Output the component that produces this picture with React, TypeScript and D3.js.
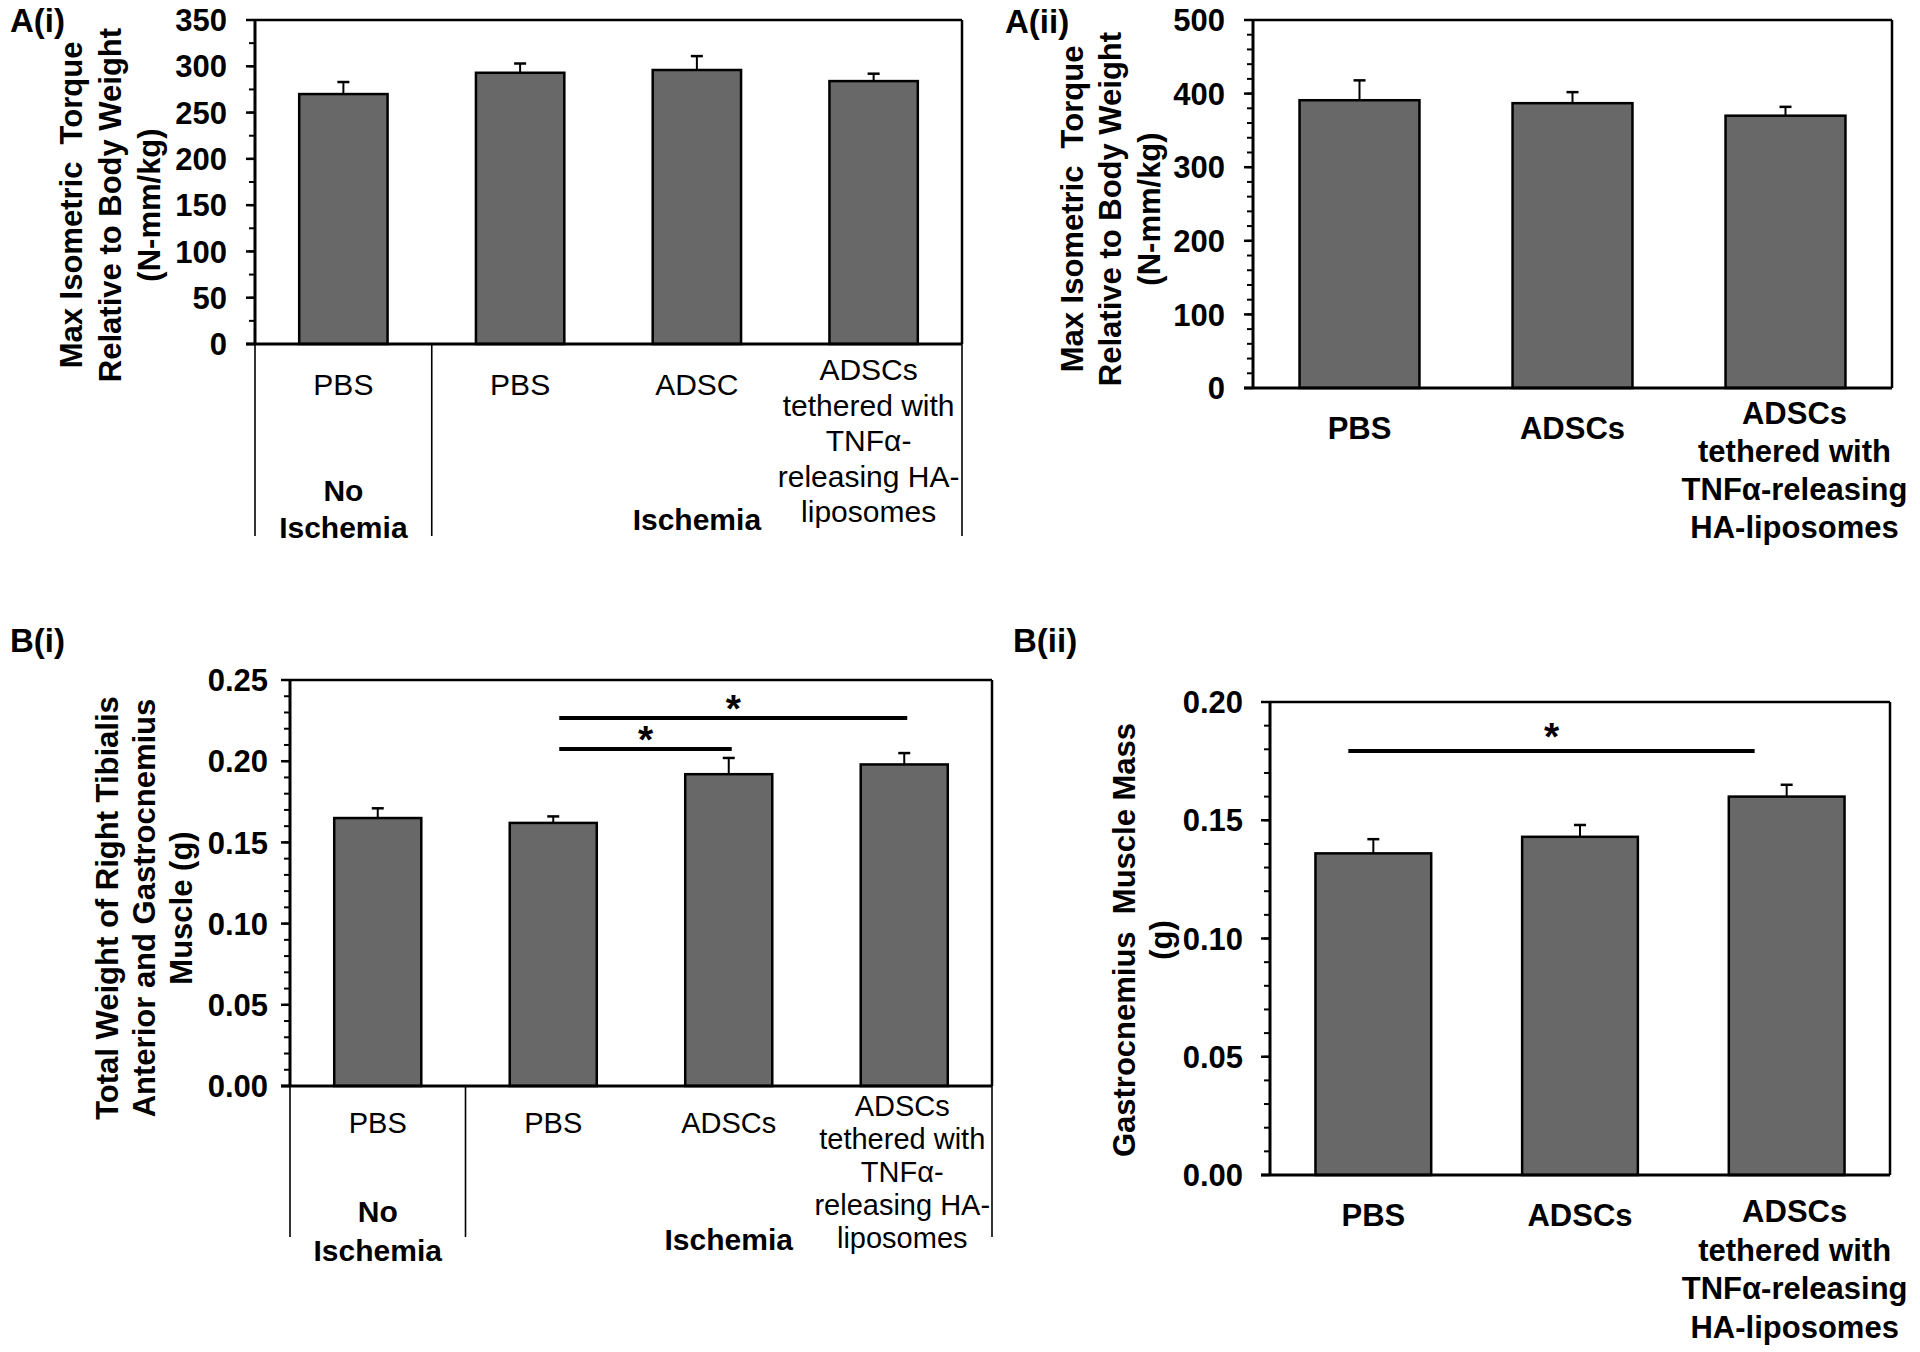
import React from "react";
import * as d3 from "d3";

const FONT = "'Liberation Sans', Arial, Helvetica, sans-serif";

// ---------- A(i) ----------
const aiLabels = [["PBS"], ["PBS"], ["ADSC"], ["ADSCs", "tethered with", "TNFα-", "releasing HA-", "liposomes"]];
const aiValues = [270, 293, 296, 284];
const aiErrors = [13, 10, 15, 8];
const aiTicks = [0, 50, 100, 150, 200, 250, 300, 350];
const aiTitle = ["Max Isometric  Torque", "Relative to Body Weight", "(N-mm/kg)"];

// ---------- A(ii) ----------
const aiiLabels = [["PBS"], ["ADSCs"], ["ADSCs", "tethered with", "TNFα-releasing", "HA-liposomes"]];
const aiiValues = [391, 387, 370];
const aiiErrors = [27, 15, 12];
const aiiTicks = [0, 100, 200, 300, 400, 500];
const aiiTitle = ["Max Isometric  Torque", "Relative to Body Weight", "(N-mm/kg)"];

// ---------- B(i) ----------
const biLabels = [["PBS"], ["PBS"], ["ADSCs"], ["ADSCs", "tethered with", "TNFα-", "releasing HA-", "liposomes"]];
const biValues = [0.165, 0.162, 0.192, 0.198];
const biErrors = [0.006, 0.004, 0.010, 0.007];
const biTicks = [0, 0.05, 0.10, 0.15, 0.20, 0.25];
const biTitle = ["Total Weight of Right Tibialis", "Anterior and Gastrocnemius", "Muscle (g)"];
const biSig = [
  { from: 1, to: 3, y: 0.2266 },
  { from: 1, to: 2, y: 0.2075 },
];

// ---------- B(ii) ----------
const biiLabels = [["PBS"], ["ADSCs"], ["ADSCs", "tethered with", "TNFα-releasing", "HA-liposomes"]];
const biiValues = [0.136, 0.143, 0.160];
const biiErrors = [0.006, 0.005, 0.005];
const biiTicks = [0, 0.05, 0.10, 0.15, 0.20];
const biiTitle = ["Gastrocnemius  Muscle Mass", "(g)"];
const biiSig = [{ from: 0, to: 2, y: 0.1793 }];

// group labels under the split panels
const groupNo = ["No", "Ischemia"];
const groupIsch = "Ischemia";

type PanelProps = {
  name: string;
  nameX: number;
  nameY: number;
  left: number;
  right: number;
  top: number;
  zero: number;
  max: number;
  ticks: number[];
  minor: number;
  fmt: (v: number) => string;
  values: number[];
  errors: number[];
  labels: string[][];
  barRatio: number;
  title: string[];
  titleOffsets: number[];
  titleY: number;
  tickGap: number;
  catFont: number;
  catWeight: string;
  singleBase: number;
  multiBase: number;
  lineGap: number;
  multiDx: number;
  groups?: { noBase: number; ischBase: number; midBase: number; divBottom: number };
  sig?: { from: number; to: number; y: number }[];
  sigDx1?: number;
  sigDx2?: number;
  starDy?: number;
};

function Panel(p: PanelProps) {
  const x = d3
    .scaleBand<string>()
    .domain(p.values.map((_, i) => String(i)))
    .range([p.left, p.right]);
  const y = d3.scaleLinear().domain([0, p.max]).range([p.zero, p.top]);
  const bw = x.bandwidth();
  const barW = bw * p.barRatio;
  const cx = (i: number) => (x(String(i)) as number) + bw / 2;
  const minorTicks = d3.range(0, p.max + p.minor / 2, p.minor);
  const majorLen = 9;
  const minorLen = 6;
  const bottomExt = p.groups ? p.groups.divBottom : p.zero;

  return (
    <g>
      <text x={p.nameX} y={p.nameY} fontFamily={FONT} fontWeight="bold" fontSize={33}>
        {p.name}
      </text>

      {/* y title */}
      {p.title.map((t, i) => (
        <text
          key={"t" + i}
          transform={`translate(${p.left + p.titleOffsets[i]},${p.titleY}) rotate(-90)`}
          textAnchor="middle"
          fontFamily={FONT}
          fontWeight="bold"
          fontSize={31}
          style={{ whiteSpace: "pre" }}
        >
          {t}
        </text>
      ))}

      {/* bars */}
      {p.values.map((v, i) => (
        <g key={"b" + i}>
          <line
            x1={cx(i)}
            x2={cx(i)}
            y1={y(v)}
            y2={y(v + p.errors[i])}
            stroke="#000"
            strokeWidth={2}
          />
          <line
            x1={cx(i) - 6}
            x2={cx(i) + 6}
            y1={y(v + p.errors[i])}
            y2={y(v + p.errors[i])}
            stroke="#000"
            strokeWidth={2.5}
          />
          <rect
            x={cx(i) - barW / 2}
            y={y(v)}
            width={barW}
            height={y(0) - y(v)}
            fill="#686868"
            stroke="#000"
            strokeWidth={2.5}
          />
        </g>
      ))}

      {/* ticks */}
      {minorTicks.map((t, i) => (
        <line
          key={"m" + i}
          x1={p.left - minorLen}
          x2={p.left}
          y1={y(t)}
          y2={y(t)}
          stroke="#000"
          strokeWidth={2}
        />
      ))}
      {p.ticks.map((t, i) => (
        <g key={"k" + i}>
          <line x1={p.left - majorLen} x2={p.left} y1={y(t)} y2={y(t)} stroke="#000" strokeWidth={2.5} />
          <text
            x={p.left - p.tickGap}
            y={y(t)}
            dy="0.36em"
            textAnchor="end"
            fontFamily={FONT}
            fontWeight="bold"
            fontSize={31}
          >
            {p.fmt(t)}
          </text>
        </g>
      ))}

      {/* frame */}
      <line x1={p.left} x2={p.right} y1={p.top} y2={p.top} stroke="#000" strokeWidth={2.5} />
      <line x1={p.right} x2={p.right} y1={p.top} y2={p.zero} stroke="#000" strokeWidth={2.5} />
      <line x1={p.left} x2={p.left} y1={p.top} y2={p.zero} stroke="#000" strokeWidth={3} />
      <line x1={p.left - majorLen} x2={p.right} y1={p.zero} y2={p.zero} stroke="#000" strokeWidth={3} />

      {/* category labels */}
      {p.labels.map((lines, i) => {
        const multi = lines.length > 1;
        const base = p.zero + (multi ? p.multiBase : p.singleBase);
        return lines.map((ln, k) => (
          <text
            key={"c" + i + "-" + k}
            x={cx(i) + (multi ? p.multiDx : 0)}
            y={base + k * p.lineGap}
            textAnchor="middle"
            fontFamily={FONT}
            fontWeight={p.catWeight}
            fontSize={p.catFont}
          >
            {ln}
          </text>
        ));
      })}

      {/* grouping */}
      {p.groups && (
        <g>
          {[p.left, x("1") as number, p.right].map((gx, i) => (
            <line key={"d" + i} x1={gx} x2={gx} y1={p.zero} y2={bottomExt} stroke="#000" strokeWidth={1.6} />
          ))}
          {groupNo.map((t, k) => (
            <text
              key={"n" + k}
              x={cx(0)}
              y={p.zero + (k === 0 ? p.groups!.noBase : p.groups!.ischBase)}
              textAnchor="middle"
              fontFamily={FONT}
              fontWeight="bold"
              fontSize={30}
            >
              {t}
            </text>
          ))}
          <text
            x={(cx(1) + cx(3)) / 2}
            y={p.zero + p.groups.midBase}
            textAnchor="middle"
            fontFamily={FONT}
            fontWeight="bold"
            fontSize={30}
          >
            {groupIsch}
          </text>
        </g>
      )}

      {/* significance */}
      {p.sig &&
        p.sig.map((s, i) => {
          const x1 = cx(s.from) + (p.sigDx1 || 0);
          const x2 = cx(s.to) + (p.sigDx2 || 0);
          return (
            <g key={"s" + i}>
              <line x1={x1} x2={x2} y1={y(s.y)} y2={y(s.y)} stroke="#000" strokeWidth={4} />
              <text
                x={(x1 + x2) / 2}
                y={y(s.y) + (p.starDy || 0)}
                textAnchor="middle"
                fontFamily={FONT}
                fontWeight="bold"
                fontSize={39}
              >
                *
              </text>
            </g>
          );
        })}
    </g>
  );
}

const intFmt = (v: number) => String(Math.round(v));
const decFmt = (v: number) => v.toFixed(2);

export default function App() {
  return (
    <svg
      width={1920}
      height={1352}
      style={{ position: "absolute", left: 0, top: 0, background: "#fff" }}
      xmlns="http://www.w3.org/2000/svg"
    >
      <rect x={0} y={0} width={1920} height={1352} fill="#fff" />
      <Panel
        name="A(i)"
        nameX={10}
        nameY={32}
        left={255}
        right={962}
        top={20}
        zero={344}
        max={350}
        ticks={aiTicks}
        minor={25}
        fmt={intFmt}
        values={aiValues}
        errors={aiErrors}
        labels={aiLabels}
        barRatio={0.5}
        title={aiTitle}
        titleOffsets={[-173, -134, -95]}
        titleY={205}
        tickGap={28}
        catFont={30}
        catWeight="normal"
        singleBase={51}
        multiBase={36}
        lineGap={35.5}
        multiDx={-5}
        groups={{ noBase: 157, ischBase: 194, midBase: 186, divBottom: 536 }}
      />
      <Panel
        name="A(ii)"
        nameX={1005}
        nameY={33}
        left={1253}
        right={1892}
        top={20}
        zero={388}
        max={500}
        ticks={aiiTicks}
        minor={20}
        fmt={intFmt}
        values={aiiValues}
        errors={aiiErrors}
        labels={aiiLabels}
        barRatio={0.563}
        title={aiiTitle}
        titleOffsets={[-170, -132, -93]}
        titleY={209}
        tickGap={28}
        catFont={31}
        catWeight="bold"
        singleBase={51}
        multiBase={36}
        lineGap={38}
        multiDx={9}
      />
      <Panel
        name="B(i)"
        nameX={10}
        nameY={652}
        left={290}
        right={992}
        top={680}
        zero={1086}
        max={0.25}
        ticks={biTicks}
        minor={0.01}
        fmt={decFmt}
        values={biValues}
        errors={biErrors}
        labels={biLabels}
        barRatio={0.496}
        title={biTitle}
        titleOffsets={[-172, -135, -98]}
        titleY={908}
        tickGap={22}
        catFont={29}
        catWeight="normal"
        singleBase={47}
        multiBase={30}
        lineGap={33}
        multiDx={-2}
        groups={{ noBase: 136, ischBase: 175, midBase: 164, divBottom: 1237 }}
        sig={biSig}
        sigDx1={6}
        sigDx2={3}
        starDy={4}
      />
      <Panel
        name="B(ii)"
        nameX={1013}
        nameY={652}
        left={1270}
        right={1890}
        top={702}
        zero={1175}
        max={0.2}
        ticks={biiTicks}
        minor={0.01}
        fmt={decFmt}
        values={biiValues}
        errors={biiErrors}
        labels={biiLabels}
        barRatio={0.56}
        title={biiTitle}
        titleOffsets={[-135, -98]}
        titleY={940}
        tickGap={27}
        catFont={31}
        catWeight="bold"
        singleBase={51}
        multiBase={47}
        lineGap={38.5}
        multiDx={8}
        sig={biiSig}
        sigDx1={-25}
        sigDx2={-32}
        starDy={-1}
      />
    </svg>
  );
}
